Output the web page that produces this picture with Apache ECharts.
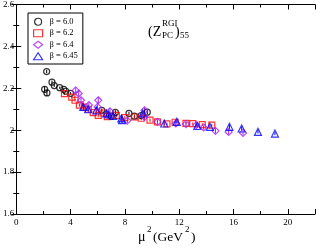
<!DOCTYPE html>
<html><head><meta charset="utf-8">
<script src="https://cdn.jsdelivr.net/npm/echarts@6/dist/echarts.min.js"></script>
<style>html,body{margin:0;padding:0;background:#fff}#c{width:316px;height:249px}</style>
</head><body><div id="c"></div>
<script>
// [mu^2, Z, error]
const beta60 = [[2.09,2.195,0.015],[2.26,2.178,0.015],[2.24,2.28,0.008],[2.63,2.229,0.008],[2.8,2.213,0.006],[3.2,2.203,0.005],[3.5,2.195,0.005],[3.65,2.186,0.005],[4.0,2.176,0.006],[6.3,2.095,0.008],[7.0,2.067,0.008],[7.3,2.085,0.01],[8.3,2.08,0.008],[8.7,2.067,0.008],[9.2,2.07,0.008],[9.65,2.086,0.01]];
const beta62 = [[3.55,2.175,0.006],[4.09,2.158,0.006],[4.33,2.143,0.006],[4.65,2.12,0.008],[5.0,2.11,0.008],[5.3,2.1,0.008],[5.67,2.084,0.008],[6.04,2.071,0.008],[6.4,2.082,0.008],[6.7,2.065,0.01],[7.37,2.071,0.008],[8.0,2.06,0.008],[8.7,2.063,0.008],[9.2,2.057,0.008],[9.85,2.048,0.008],[10.4,2.04,0.006],[11.1,2.03,0.006],[11.7,2.038,0.006],[12.5,2.033,0.006],[13.0,2.031,0.006],[13.7,2.027,0.006],[14.4,2.024,0.006]];
const beta64 = [[4.38,2.19,0.012],[4.6,2.175,0.012],[4.77,2.143,0.012],[5.35,2.12,0.012],[5.99,2.111,0.012],[6.04,2.143,0.015],[6.9,2.09,0.015],[8.18,2.046,0.012],[9.44,2.095,0.012],[9.44,2.063,0.012],[10.4,2.04,0.01],[11.75,2.032,0.01],[12.5,2.029,0.01],[13.26,2.024,0.01],[13.8,2.013,0.01],[14.67,1.997,0.012],[15.64,1.992,0.012],[16.7,1.987,0.01]];
const beta645 = [[4.94,2.111,0.015],[5.3,2.1,0.015],[5.9,2.095,0.015],[6.64,2.08,0.015],[6.8,2.075,0.015],[7.13,2.068,0.015],[7.74,2.056,0.015],[7.79,2.048,0.015],[9.32,2.08,0.012],[10.9,2.032,0.01],[11.82,2.04,0.008],[13.33,2.02,0.008],[14.26,2.016,0.008],[15.7,2.016,0.01],[16.6,2.008,0.01],[17.8,1.992,0.008],[19.05,1.984,0.008]];
const seriesNames = ['β = 6.0','β = 6.2','β = 6.4','β = 6.45'];
const xTicks = [0,4,8,12,16,20];
const yTicks = [1.6,1.8,2.0,2.2,2.4,2.6];

const datasets = [beta60, beta62, beta64, beta645];
const colors = ['#000000','#ff0000','#a020f0','#0000ff'];
const symbols = ['circle','rect','diamond','triangle'];
const sizes = [6,6,7,7];
const serif = '"Liberation Serif","DejaVu Serif",serif';

const series = [];
datasets.forEach((d,i)=>{
  series.push({
    type:'custom', silent:true, z:2,
    data:d,
    renderItem:(params,api)=>{
      const x=api.value(0), y=api.value(1), e=api.value(2);
      const p1=api.coord([x,y+e]), p2=api.coord([x,y-e]);
      return {type:'line', shape:{x1:p1[0],y1:p1[1],x2:p2[0],y2:p2[1]}, style:{stroke:colors[i],lineWidth:1}};
    },
    encode:{x:0,y:1}
  });
  series.push({
    name:seriesNames[i], type:'scatter', z:3,
    data:d.map(p=>[p[0],p[1]]),
    symbol:symbols[i], symbolSize:sizes[i],
    itemStyle:{color:'rgba(255,255,255,0)', borderColor:colors[i], borderWidth:1.2}
  });
});

const axisCommon = {
  axisLine:{show:true,lineStyle:{color:'#000',width:1}},
  axisTick:{show:true,inside:true,length:5,lineStyle:{color:'#000'}},
  minorTick:{show:true,splitNumber:2,length:3,lineStyle:{color:'#000'}},
  splitLine:{show:false}
};

const chart = echarts.init(document.getElementById('c'),null,{renderer:'canvas'});
chart.setOption({
  animation:false,
  backgroundColor:'#fff',
  grid:{left:14,right:1,top:4,bottom:35},
  legend:{
    left:28, top:13, orient:'vertical',
    padding:[4,5,3,5], itemGap:2, itemWidth:9, itemHeight:7,
    borderColor:'#000', borderWidth:1, borderRadius:0,
    textStyle:{fontFamily:serif,fontSize:8.5,color:'#000',padding:[0,0,0,2],lineHeight:9.5},
    data:seriesNames.map((n,i)=>({name:n, icon:symbols[i], itemStyle:{color:'rgba(255,255,255,0)',borderColor:colors[i],borderWidth:1.2}}))
  },
  xAxis:[
    Object.assign({type:'value',min:0,max:22,interval:4,position:'bottom',
      axisLabel:{fontFamily:serif,fontSize:9,color:'#000',margin:4,showMaxLabel:false,
        formatter:v=>xTicks.includes(v)?String(v):''}},axisCommon),
    Object.assign({type:'value',min:0,max:22,interval:4,position:'top',axisLabel:{show:false}},axisCommon)
  ],
  yAxis:[
    Object.assign({type:'value',min:1.6,max:2.6,interval:0.2,position:'left',
      axisLabel:{fontFamily:serif,fontSize:9,color:'#000',margin:2,
        formatter:v=>{const t=yTicks.find(k=>Math.abs(k-v)<1e-6);return t===undefined?'':(t===2?'2':String(+t.toFixed(1)));}}},axisCommon),
    Object.assign({type:'value',min:1.6,max:2.6,interval:0.2,position:'right',axisLabel:{show:false}},axisCommon)
  ],
  graphic:[
    {type:'text',left:148,top:25,style:{text:'(Z',font:'14px '+serif,fill:'#000'}},
    {type:'text',left:162,top:19,style:{text:'RGI',font:'9px '+serif,fill:'#000'}},
    {type:'text',left:162,top:31,style:{text:'PC',font:'9px '+serif,fill:'#000'}},
    {type:'text',left:175,top:25,style:{text:')',font:'14px '+serif,fill:'#000'}},
    {type:'text',left:180,top:31,style:{text:'55',font:'9px '+serif,fill:'#000'}},
    {type:'text',left:138,top:230,style:{text:'μ',font:'14px '+serif,fill:'#000'}},
    {type:'text',left:147,top:225,style:{text:'2',font:'9px '+serif,fill:'#000'}},
    {type:'text',left:153,top:230,style:{text:'(GeV',font:'13.5px '+serif,fill:'#000'}},
    {type:'text',left:185,top:225,style:{text:'2',font:'9px '+serif,fill:'#000'}},
    {type:'text',left:191,top:230,style:{text:')',font:'13.5px '+serif,fill:'#000'}}
  ],
  series:series.map(s=>Object.assign(s,{xAxisIndex:0,yAxisIndex:0}))
});
</script></body></html>
